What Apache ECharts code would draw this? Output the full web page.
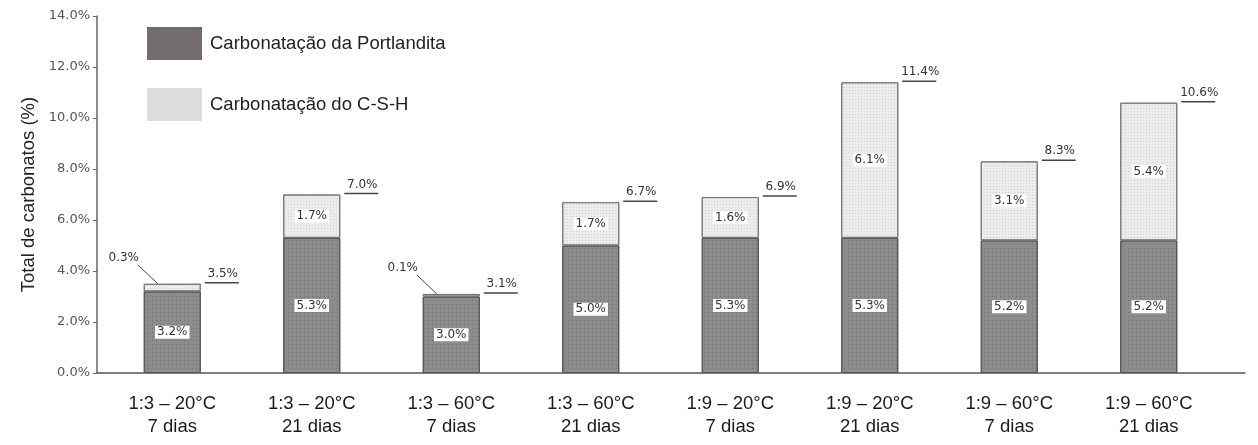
<!DOCTYPE html>
<html>
<head>
<meta charset="utf-8">
<script src="https://cdn.jsdelivr.net/npm/echarts@6/dist/echarts.min.js"></script>
<style>html,body{margin:0;padding:0;background:#fff}#c{width:1258px;height:445px}</style>
</head>
<body>
<div id="c"></div>
<script>
const categories = ['1:3 – 20°C\n7 dias','1:3 – 20°C\n21 dias','1:3 – 60°C\n7 dias','1:3 – 60°C\n21 dias','1:9 – 20°C\n7 dias','1:9 – 20°C\n21 dias','1:9 – 60°C\n7 dias','1:9 – 60°C\n21 dias'];
const portlandita = [3.2, 5.3, 3.0, 5.0, 5.3, 5.3, 5.2, 5.2];
const csh = [0.3, 1.7, 0.1, 1.7, 1.6, 6.1, 3.1, 5.4];
const seriesNames = ['Carbonatação da Portlandita', 'Carbonatação do C-S-H'];

const BAR_W = 57;
const smallFont = 'DejaVu Sans';
const pct = v => Number(v).toFixed(1) + '%';
const boxLabel = {
  show: true, position: 'inside', formatter: p => pct(p.value),
  fontFamily: smallFont, fontSize: 12, color: '#333',
  backgroundColor: '#fff', padding: [1, 2, 0, 2]
};

const chart = echarts.init(document.getElementById('c'), null, {renderer: 'canvas'});
chart.setOption({
  animation: false,
  grid: [
    {left: 102.5, right: 39.5, top: 16, bottom: 72},
    {left: 97, right: 13, top: 16, bottom: 72}
  ],
  legend: {
    orient: 'vertical', left: 142, top: 22, itemWidth: 55, itemHeight: 33, itemGap: 28,
    selectedMode: false, icon: 'rect',
    textStyle: {fontFamily: 'Liberation Sans', fontSize: 18.5, color: '#222', padding: [0, 0, 0, 3]},
    data: [
      {name: seriesNames[0], itemStyle: {color: '#736d6d', borderWidth: 0, decal: 'none'}},
      {name: seriesNames[1], itemStyle: {color: '#dcdddf', borderWidth: 0, decal: 'none'}}
    ]
  },
  xAxis: [
    {
      type: 'category', gridIndex: 0, data: categories,
      axisLine: {show: false}, axisTick: {show: false}, splitLine: {show: false},
      axisLabel: {fontFamily: 'Liberation Sans', fontSize: 18.5, color: '#1a1a1a', lineHeight: 23, margin: 19, interval: 0}
    },
    {
      type: 'value', gridIndex: 1, min: 0, max: 1,
      axisLine: {show: true, lineStyle: {color: '#555', width: 1.5}},
      axisTick: {show: false}, axisLabel: {show: false}, splitLine: {show: false}
    }
  ],
  yAxis: [
    {
      type: 'value', gridIndex: 0, min: 0, max: 14, interval: 2, offset: 5.5,
      name: 'Total de carbonatos (%)', nameLocation: 'middle', nameGap: 59, nameMoveOverlap: false,
      nameTextStyle: {fontFamily: 'Liberation Sans', fontSize: 18.5, color: '#222'},
      axisLine: {show: true, lineStyle: {color: '#666', width: 1.5}},
      axisTick: {show: true, length: 4, lineStyle: {color: '#666'}},
      splitLine: {show: false},
      axisLabel: {formatter: v => pct(v), fontFamily: smallFont, fontSize: 13, color: '#555', margin: 7}
    },
    {
      type: 'value', gridIndex: 1, min: 0, max: 14, show: false
    }
  ],
  series: [
    {
      name: seriesNames[0], type: 'bar', stack: 'tot', barWidth: BAR_W,
      xAxisIndex: 0, yAxisIndex: 0,
      data: portlandita,
      itemStyle: {
        color: '#8c8c8c', borderColor: '#555', borderWidth: 1,
        decal: {symbol: 'rect', symbolSize: 1, dashArrayX: [1, 3], dashArrayY: [1, 3], color: 'rgba(60,60,60,0.35)'}
      },
      label: boxLabel
    },
    {
      name: seriesNames[1], type: 'bar', stack: 'tot', barWidth: BAR_W,
      xAxisIndex: 0, yAxisIndex: 0,
      data: csh.map(v => ({value: v, label: {show: v >= 0.5}})),
      itemStyle: {
        color: '#ececec', borderColor: '#777', borderWidth: 1,
        decal: {symbol: 'rect', symbolSize: 1, dashArrayX: [1, 2], dashArrayY: [1, 2], color: 'rgba(0,0,0,0.12)'}
      },
      label: boxLabel
    },
    {
      name: 'totais', type: 'custom', silent: true, clip: false, z: 10,
      xAxisIndex: 0, yAxisIndex: 0,
      data: portlandita.map((p, i) => [i, p + csh[i], csh[i]]),
      encode: {x: 0, y: 1},
      renderItem: function (params, api) {
        const idx = api.value(0), total = api.value(1), c = api.value(2);
        const top = api.coord([idx, total]);
        const right = top[0] + BAR_W / 2, left = top[0] - BAR_W / 2;
        const ls = {stroke: '#444', lineWidth: 1.5};
        const ts = (txt, x, y) => ({type: 'text', style: {text: txt, x: x, y: y, align: 'center', verticalAlign: 'bottom', font: '12px "DejaVu Sans"', fill: '#333'}});
        const children = [
          {type: 'line', shape: {x1: right + 4, y1: top[1] - 1, x2: right + 38, y2: top[1] - 1}, style: ls},
          ts(pct(total), right + 22, top[1] - 4)
        ];
        if (c < 0.5) {
          children.push({type: 'line', shape: {x1: left + 14, y1: top[1], x2: left - 6, y2: top[1] - 19}, style: {stroke: '#444', lineWidth: 1}});
          children.push(ts(pct(c), left - 20, top[1] - 20));
        }
        return {type: 'group', children: children};
      }
    }
  ]
});
</script>
</body>
</html>
